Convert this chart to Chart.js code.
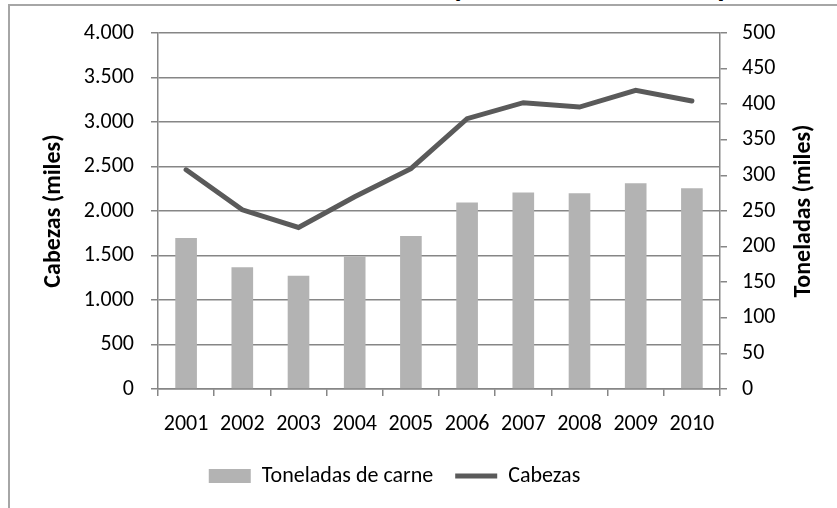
<!DOCTYPE html>
<html lang="es">
<head>
    <meta charset="UTF-8">
    <title>Cabezas y toneladas de carne</title>
    <style>
        body {
            margin: 0;
            background: #fff;
            overflow: hidden;
            font-family: Carlito, Lato, sans-serif;
        }
        #wrap {
            position: relative;
            width: 837px;
            height: 508px;
            overflow: hidden;
        }
        #titulo {
            position: absolute;
            left: 140px;
            top: -29px;
            font-size: 30px;
            line-height: 30px;
            font-weight: bold;
            white-space: nowrap;
            color: #000;
        }
        #marco {
            position: absolute;
            left: 8px;
            top: 4px;
            width: 900px;
            height: 600px;
            border-left: 2px solid #a6a6a6;
            border-top: 2px solid #a6a6a6;
            pointer-events: none;
        }
        canvas {
            position: absolute;
            left: 0;
            top: 0;
        }
    </style>
    <script src="https://cdn.jsdelivr.net/npm/chart.js"></script>
</head>
<body>
<div id="wrap">
    <div id="titulo">Faena bovina en cabezas y toneladas de carne por año</div>
    <canvas id="grafico" width="837" height="508"></canvas>
    <div id="marco"></div>
</div>

<script>
// datos
const anios = ['2001', '2002', '2003', '2004', '2005', '2006', '2007', '2008', '2009', '2010'];
const toneladas = [212, 171, 159, 186, 215, 262, 276, 275, 289, 282];   // miles de toneladas (eje derecho)
const cabezas = [2463, 2013, 1815, 2160, 2475, 3037, 3217, 3168, 3356, 3236]; // miles de cabezas (eje izquierdo)

const cabezasMax = 4000, cabezasPaso = 500;
const toneladasMax = 500, toneladasPaso = 50;

const fuente = 'Carlito, Lato, sans-serif';
const gris = '#868686';

function miles(v) {
    return String(v).replace(/\B(?=(\d{3})+(?!\d))/g, '.');
}

// titulo del eje derecho, escrito de abajo hacia arriba como en el original
const tituloDerecho = {
    id: 'tituloDerecho',
    afterDraw(chart) {
        const ctx = chart.ctx;
        const area = chart.chartArea;
        ctx.save();
        ctx.translate(804, (area.top + area.bottom) / 2);
        ctx.rotate(-Math.PI / 2);
        ctx.font = 'bold 24px ' + fuente;
        ctx.fillStyle = '#000';
        ctx.textAlign = 'center';
        ctx.textBaseline = 'middle';
        ctx.fillText('Toneladas (miles)', 0, 0);
        ctx.restore();
    }
};

Chart.defaults.font.family = fuente;
Chart.defaults.font.size = 22;
Chart.defaults.color = '#000';

new Chart(document.getElementById('grafico'), {
    type: 'bar',
    data: {
        labels: anios,
        datasets: [{
            label: 'Toneladas de carne',
            data: toneladas,
            yAxisID: 'y1',
            backgroundColor: '#b3b3b3',
            borderWidth: 0,
            barPercentage: 0.385,
            categoryPercentage: 1
        }, {
            type: 'line',
            label: 'Cabezas',
            data: cabezas,
            yAxisID: 'y',
            borderColor: '#5a5a5a',
            backgroundColor: '#5a5a5a',
            borderWidth: 5,
            borderCapStyle: 'round',
            pointRadius: 0,
            pointStyle: 'line',
            tension: 0
        }]
    },
    options: {
        responsive: false,
        animation: false,
        devicePixelRatio: 1,
        layout: { padding: { top: 33, left: 0, right: 48, bottom: 11 } },
        plugins: {
            tooltip: { enabled: false },
            legend: {
                position: 'bottom',
                labels: {
                    usePointStyle: true,
                    pointStyleWidth: 42,
                    boxHeight: 14,
                    padding: 22,
                    font: { size: 22 },
                    generateLabels(chart) {
                        return chart.data.datasets.map((ds, i) => ({
                            text: ds.label,
                            datasetIndex: i,
                            fillStyle: ds.backgroundColor,
                            strokeStyle: ds.type === 'line' ? ds.borderColor : ds.backgroundColor,
                            lineWidth: ds.type === 'line' ? 5 : 0,
                            pointStyle: ds.type === 'line' ? 'line' : 'rect',
                            hidden: false
                        }));
                    }
                }
            }
        },
        scales: {
            x: {
                grid: { drawOnChartArea: false, offset: true, color: gris, lineWidth: 1.5, tickLength: 7 },
                border: { color: gris, width: 1.5 },
                ticks: { padding: 15, maxRotation: 0, autoSkip: false },
                afterFit(s) { s.height = 54; }
            },
            y: {
                position: 'left',
                min: 0,
                max: cabezasMax,
                ticks: { stepSize: cabezasPaso, padding: 17, callback: v => miles(v) },
                grid: { color: gris, lineWidth: 1.5, tickLength: 7 },
                border: { color: gris, width: 1.5 },
                title: {
                    display: true,
                    text: 'Cabezas (miles)',
                    font: { size: 24, weight: 'bold' },
                    padding: { top: 40, bottom: 0 }
                },
                afterFit(s) { s.width = 158; }
            },
            y1: {
                position: 'right',
                min: 0,
                max: toneladasMax,
                ticks: { stepSize: toneladasPaso, padding: 15 },
                grid: { drawOnChartArea: false, color: gris, lineWidth: 1.5, tickLength: 7 },
                border: { color: gris, width: 1.5 },
                afterFit(s) { s.width = 69; }
            }
        }
    },
    plugins: [tituloDerecho]
});
</script>
</body>
</html>
